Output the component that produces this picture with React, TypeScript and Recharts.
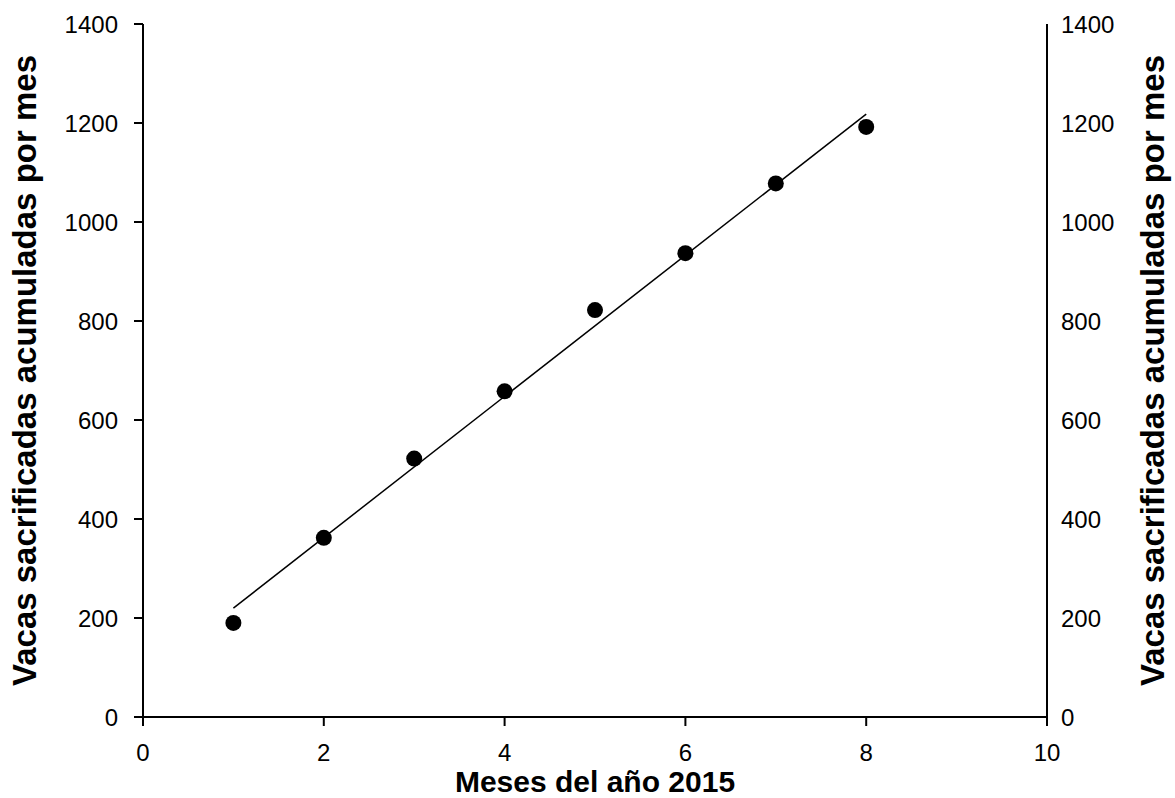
import React from "react";
import { ScatterChart, Scatter, XAxis, YAxis } from "recharts";

// Monthly cumulative slaughtered cows, 2015
const months = [1, 2, 3, 4, 5, 6, 7, 8];
const cumulativeCows = [190, 362, 522, 658, 822, 937, 1078, 1192];
// Fitted trend line at its two ends
const trendX = [1, 8];
const trendY = [220, 1218];

const xTicks = [0, 2, 4, 6, 8, 10];
const yTicks = [0, 200, 400, 600, 800, 1000, 1200, 1400];

const points = months.map((m, i) => ({ x: m, y: cumulativeCows[i] }));
const trend = trendX.map((x, i) => ({ x, y: trendY[i] }));

const FONT = "'Liberation Sans', Arial, sans-serif";
const Y_TITLE = "Vacas sacrificadas acumuladas por mes";
const TICK_SIZE = 24;

const axisLine = { stroke: "#000", strokeWidth: 2 };

// own tick renderer so the font size really sticks
function Tick({ x, y, payload, anchor, dx = 0, dy = 0 }: any) {
  return (
    <text
      x={x + dx}
      y={y + dy}
      textAnchor={anchor}
      dominantBaseline="central"
      style={{ fontFamily: FONT, fontSize: TICK_SIZE, fill: "#000" }}
    >
      {payload.value}
    </text>
  );
}

function YTitle({ viewBox, side }: any) {
  const vb = viewBox || { x: 0, y: 0, width: 0, height: 0 };
  const cx = side === "left" ? vb.x + 24 : vb.x + 105;
  const cy = vb.y + vb.height / 2;
  return (
    <text
      x={cx}
      y={cy}
      transform={`rotate(-90 ${cx} ${cy})`}
      textAnchor="middle"
      dominantBaseline="central"
      style={{ fontFamily: FONT, fontWeight: 700, fontSize: 33, fill: "#000" }}
    >
      {Y_TITLE}
    </text>
  );
}

function XTitle({ viewBox }: any) {
  const vb = viewBox || { x: 0, y: 0, width: 0, height: 0 };
  return (
    <text
      x={vb.x + vb.width / 2}
      y={vb.y + 64}
      textAnchor="middle"
      dominantBaseline="central"
      style={{ fontFamily: FONT, fontWeight: 700, fontSize: 30, fill: "#000" }}
    >
      Meses del año 2015
    </text>
  );
}

const Dot = (props: any) => <circle cx={props.cx} cy={props.cy} r={8} fill="#000" />;

export default function App() {
  return (
    <div style={{ position: "absolute", left: 0, top: 0, width: 1175, height: 798, background: "#fff" }}>
      <ScatterChart width={1175} height={798} margin={{ top: 24, right: 0, bottom: 0, left: 0 }}>
        <XAxis
          type="number"
          dataKey="x"
          domain={[0, 10]}
          ticks={xTicks}
          height={81}
          tick={<Tick anchor="middle" dy={14} />}
          tickSize={9}
          tickMargin={12}
          axisLine={axisLine}
          tickLine={axisLine}
          label={<XTitle />}
        />
        <YAxis
          yAxisId="left"
          type="number"
          dataKey="y"
          domain={[0, 1400]}
          ticks={yTicks}
          width={143}
          tick={<Tick anchor="end" />}
          tickSize={9}
          tickMargin={16}
          axisLine={axisLine}
          tickLine={axisLine}
          label={<YTitle side="left" />}
        />
        <YAxis
          yAxisId="right"
          orientation="right"
          type="number"
          dataKey="y"
          domain={[0, 1400]}
          ticks={yTicks}
          width={128}
          tick={<Tick anchor="start" />}
          tickSize={9}
          tickMargin={5}
          axisLine={axisLine}
          tickLine={false}
          label={<YTitle side="right" />}
        />
        <Scatter
          yAxisId="left"
          data={trend}
          line={{ stroke: "#000", strokeWidth: 1.5 }}
          shape={() => null}
          isAnimationActive={false}
        />
        <Scatter yAxisId="left" data={points} shape={Dot} isAnimationActive={false} />
        {/* same points tied to the right axis, drawn invisibly, so that axis gets its ticks */}
        <Scatter yAxisId="right" data={points} shape={() => null} isAnimationActive={false} />
      </ScatterChart>
    </div>
  );
}
